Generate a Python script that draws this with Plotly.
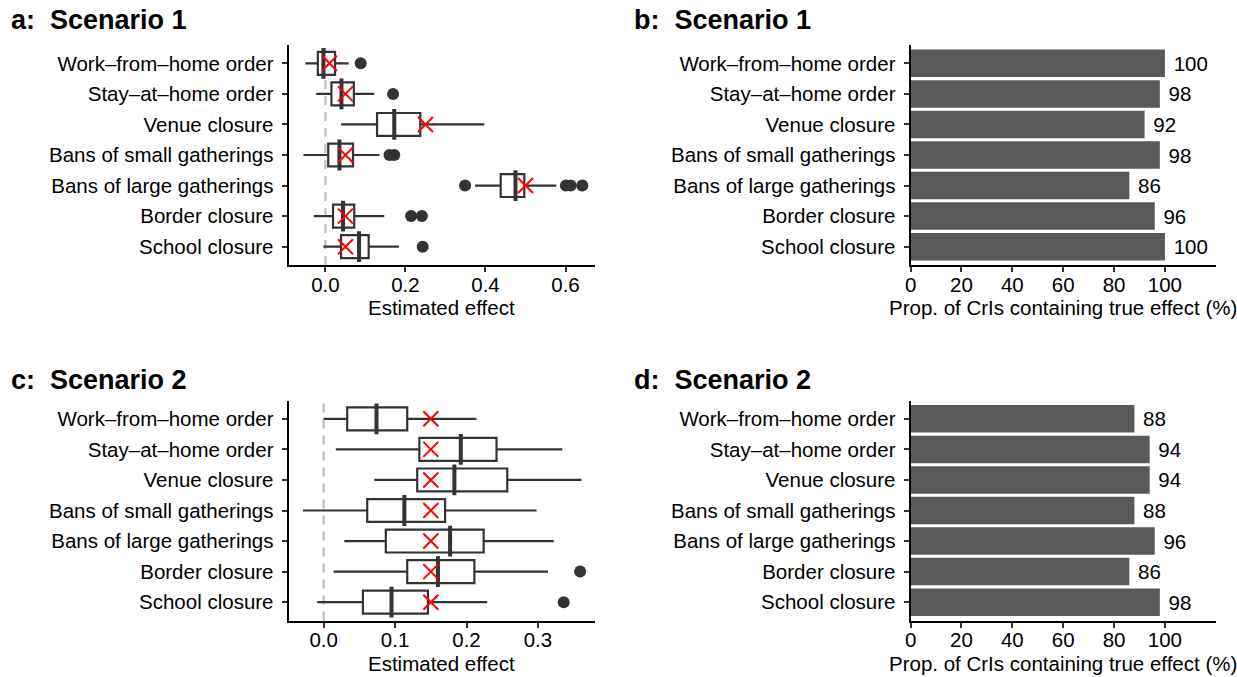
import plotly.graph_objects as go

W, H = 1237, 677

categories = ["Work\u2013from\u2013home order", "Stay\u2013at\u2013home order", "Venue closure",
              "Bans of small gatherings", "Bans of large gatherings", "Border closure", "School closure"]

# Scenario 1 box statistics
s1_low = [-0.050, -0.023, 0.039, -0.055, 0.374, -0.029, -0.005]
s1_q1 = [-0.019, 0.015, 0.129, 0.007, 0.438, 0.019, 0.039]
s1_med = [-0.005, 0.040, 0.172, 0.035, 0.475, 0.044, 0.084]
s1_q3 = [0.024, 0.071, 0.237, 0.069, 0.497, 0.072, 0.108]
s1_high = [0.058, 0.122, 0.397, 0.135, 0.577, 0.147, 0.184]
s1_true = [0.01, 0.05, 0.25, 0.05, 0.50, 0.05, 0.05]
s1_out_x = [0.088, 0.169, 0.160, 0.172, 0.349, 0.601, 0.613, 0.642, 0.214, 0.241, 0.243]
s1_out_y = [categories[0], categories[1], categories[3], categories[3], categories[4], categories[4],
            categories[4], categories[4], categories[5], categories[5], categories[6]]

# Scenario 2 box statistics
s2_low = [0.000, 0.017, 0.071, -0.029, 0.029, 0.014, -0.009]
s2_q1 = [0.033, 0.134, 0.131, 0.061, 0.087, 0.117, 0.055]
s2_med = [0.074, 0.192, 0.183, 0.113, 0.177, 0.160, 0.095]
s2_q3 = [0.117, 0.242, 0.257, 0.170, 0.224, 0.211, 0.146]
s2_high = [0.214, 0.334, 0.361, 0.298, 0.322, 0.314, 0.229]
s2_true = [0.15, 0.15, 0.15, 0.15, 0.15, 0.15, 0.15]
s2_out_x = [0.359, 0.336]
s2_out_y = [categories[5], categories[6]]

# Coverage (%)
cov1 = [100, 98, 92, 98, 86, 96, 100]
cov2 = [88, 94, 94, 88, 96, 86, 98]

ref_line = 0

s1_xticks = [0.0, 0.2, 0.4, 0.6]
s2_xticks = [0.0, 0.1, 0.2, 0.3]
cov_xticks = [0, 20, 40, 60, 80, 100]

FONT = "Liberation Sans, Arial, sans-serif"
FS = 20.5
DARK = "#333333"

fig = go.Figure()

def px_x(a, b):
    return [a / W, b / W]

def px_y(top, bottom):
    return [1 - bottom / H, 1 - top / H]

xa_dom = px_x(284, 592)
xb_dom = px_x(909, 1215.7)
ytop_dom = px_y(45, 265)
ybot_dom = px_y(400.5, 620.5)

def add_box_panel(xref, yref, low, q1, med, q3, high, true, ox, oy):
    fig.add_trace(go.Box(
        y=categories, q1=q1, median=med, q3=q3, lowerfence=low, upperfence=high,
        orientation="h", fillcolor="white", line=dict(color=DARK, width=2.2),
        width=0.75, whiskerwidth=0, boxpoints=False, showlegend=False,
        xaxis=xref, yaxis=yref, hoverinfo="skip"))
    fig.add_trace(go.Scatter(
        x=med, y=categories, mode="markers", showlegend=False,
        marker=dict(symbol="line-ns", size=22, line=dict(color=DARK, width=4)),
        xaxis=xref, yaxis=yref, hoverinfo="skip"))
    fig.add_trace(go.Scatter(
        x=ox, y=oy, mode="markers", showlegend=False,
        marker=dict(symbol="circle", size=12, color=DARK),
        xaxis=xref, yaxis=yref, hoverinfo="skip"))
    fig.add_trace(go.Scatter(
        x=true, y=categories, mode="markers", showlegend=False,
        marker=dict(symbol="x-thin", size=15, line=dict(color="#FF0000", width=2)),
        xaxis=xref, yaxis=yref, hoverinfo="skip", cliponaxis=False))

def add_bar_panel(xref, yref, vals):
    fig.add_trace(go.Bar(
        x=vals, y=categories, orientation="h", marker=dict(color="#595959", line=dict(width=0)),
        width=0.9, text=["\u00a0" + str(v) for v in vals], textposition="outside", constraintext="none",
        textfont=dict(family=FONT, size=FS, color="black"), cliponaxis=False,
        showlegend=False, xaxis=xref, yaxis=yref, hoverinfo="skip"))

add_box_panel("x", "y", s1_low, s1_q1, s1_med, s1_q3, s1_high, s1_true, s1_out_x, s1_out_y)
add_bar_panel("x2", "y2", cov1)
add_box_panel("x3", "y3", s2_low, s2_q1, s2_med, s2_q3, s2_high, s2_true, s2_out_x, s2_out_y)
add_bar_panel("x4", "y4", cov2)

for xr, yr in [("x", "y"), ("x3", "y3")]:
    fig.add_shape(type="line", xref=xr, yref=yr + " domain", x0=ref_line, x1=ref_line, y0=0, y1=1,
                  line=dict(color="#BEBEBE", width=2.2, dash="9px,7px"), layer="below")

common_x = dict(showline=True, linecolor="black", linewidth=2, ticks="outside", ticklen=5,
                tickwidth=2, tickcolor=DARK, showgrid=False, zeroline=False, ticklabelstandoff=-5,
                tickfont=dict(family=FONT, size=FS, color="black"))
common_y = dict(showline=True, linecolor="black", linewidth=2, ticks="outside", ticklen=5,
                tickwidth=2, tickcolor=DARK, showgrid=False, zeroline=False, type="category",
                categoryorder="array", categoryarray=categories, range=[6.6, -0.6],
                ticklabelstandoff=4,
                tickfont=dict(family=FONT, size=FS, color="black"))

fig.update_layout(
    width=W, height=H, margin=dict(l=0, r=0, t=0, b=0),
    plot_bgcolor="white", paper_bgcolor="white", showlegend=False,
    font=dict(family=FONT, size=FS, color="black"),
    bargap=0.1,
    xaxis=dict(domain=xa_dom, anchor="y", range=[-0.092, 0.674], tickvals=s1_xticks, tickformat=".1f", **common_x),
    yaxis=dict(domain=ytop_dom, anchor="x", **common_y),
    xaxis2=dict(domain=xb_dom, anchor="y2", range=[0, 120], tickvals=cov_xticks, **common_x),
    yaxis2=dict(domain=ytop_dom, anchor="x2", **common_y),
    xaxis3=dict(domain=xa_dom, anchor="y3", range=[-0.049, 0.380], tickvals=s2_xticks, tickformat=".1f", **common_x),
    yaxis3=dict(domain=ybot_dom, anchor="x3", **common_y),
    xaxis4=dict(domain=xb_dom, anchor="y4", range=[0, 120], tickvals=cov_xticks, **common_x),
    yaxis4=dict(domain=ybot_dom, anchor="x4", **common_y),
)

NB = "\u00a0"
titles = [("a:" + NB + NB + "Scenario 1", 3, 20), ("b:" + NB + NB + "Scenario 1", 629, 20),
          ("c:" + NB + NB + "Scenario 2", 3, 380), ("d:" + NB + NB + "Scenario 2", 629, 380)]
for txt, x, y in titles:
    fig.add_annotation(text="<b>" + txt + "</b>", xref="paper", yref="paper", x=x / W, y=1 - y / H,
                       xanchor="left", yanchor="middle", showarrow=False,
                       font=dict(family=FONT, size=27, color="black"))

axis_titles = [("Estimated effect", 438, 307), ("Prop. of CrIs containing true effect (%)", 1062.3, 307),
               ("Estimated effect", 438, 663), ("Prop. of CrIs containing true effect (%)", 1062.3, 663)]
for txt, x, y in axis_titles:
    fig.add_annotation(text=txt, xref="paper", yref="paper", x=x / W, y=1 - y / H,
                       xanchor="center", yanchor="middle", showarrow=False,
                       font=dict(family=FONT, size=FS, color="black"))

fig.write_html("out.html")
